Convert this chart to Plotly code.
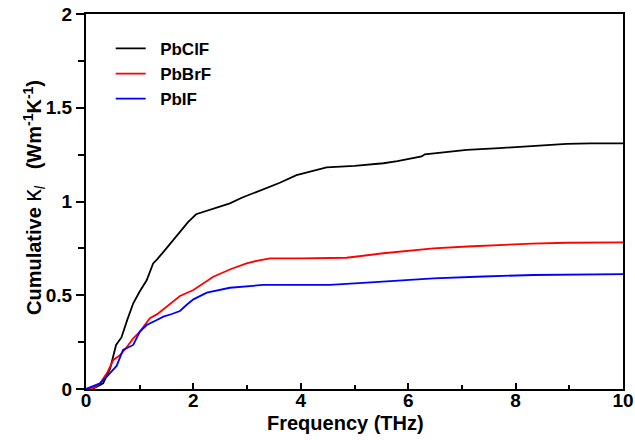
import plotly.graph_objects as go

# PbClF
x_cl = [0, 0.15, 0.32, 0.45, 0.56, 0.66, 0.77, 0.88, 1.0, 1.13, 1.25, 1.32, 1.47, 1.63, 1.78, 1.9, 2.05,
        2.31, 2.5, 2.68, 2.9, 3.18, 3.4, 3.61, 3.92, 4.3, 4.48, 5.0, 5.54, 5.8, 6.16, 6.25, 6.31, 7.09,
        7.7, 8.33, 8.95, 9.4, 10]
y_cl = [0, 0.005, 0.03, 0.11, 0.235, 0.275, 0.37, 0.457, 0.52, 0.58, 0.67, 0.69, 0.741, 0.795, 0.848, 0.89,
        0.932, 0.955, 0.97, 0.99, 1.02, 1.052, 1.075, 1.10, 1.141, 1.168, 1.182, 1.19, 1.204, 1.215, 1.234,
        1.24, 1.252, 1.275, 1.285, 1.296, 1.307, 1.31, 1.31]

# PbBrF
x_br = [0, 0.14, 0.26, 0.4, 0.51, 0.63, 0.75, 0.88, 1.0, 1.19, 1.32, 1.5, 1.75, 2.0, 2.2, 2.37, 2.7, 2.99,
        3.2, 3.43, 4.0, 4.85, 5.54, 6.0, 6.47, 7.1, 7.71, 8.3, 8.95, 10]
y_br = [0, 0.005, 0.03, 0.09, 0.155, 0.18, 0.22, 0.27, 0.305, 0.377, 0.398, 0.44, 0.496, 0.528, 0.565, 0.599,
        0.64, 0.67, 0.685, 0.697, 0.697, 0.70, 0.724, 0.737, 0.75, 0.76, 0.768, 0.775, 0.78, 0.782]

# PbIF
x_i = [0, 0.15, 0.26, 0.4, 0.57, 0.69, 0.8, 0.88, 1.0, 1.13, 1.3, 1.44, 1.6, 1.75, 1.87, 2.0, 2.25, 2.68,
       3.3, 4.54, 5.23, 6.47, 7.4, 8.33, 10]
y_i = [0, 0.015, 0.03, 0.07, 0.123, 0.208, 0.225, 0.235, 0.305, 0.341, 0.365, 0.386, 0.4, 0.416, 0.448,
       0.478, 0.514, 0.54, 0.555, 0.555, 0.567, 0.59, 0.6, 0.608, 0.613]

x_ticks = [0, 2, 4, 6, 8, 10]
y_ticks = [0, 0.5, 1, 1.5, 2]
y_ticktext = ["0", "0.5", "1", "1.5", "2"]

FONT = "Liberation Sans, Arial, sans-serif"

fig = go.Figure()
for xs, ys, name, col in [(x_cl, y_cl, "PbClF", "black"),
                          (x_br, y_br, "PbBrF", "red"),
                          (x_i, y_i, "PbIF", "blue")]:
    fig.add_trace(go.Scatter(x=xs, y=ys, mode="lines", name="\u00a0\u00a0" + name,
                             line=dict(color=col, width=1.8)))

fig.update_layout(
    width=635, height=440,
    margin=dict(l=86, r=12, t=14, b=51),
    paper_bgcolor="white", plot_bgcolor="white",
    font=dict(family=FONT, color="black"),
    legend=dict(x=0.046, y=0.955, xanchor="left", yanchor="top",
                bgcolor="rgba(0,0,0,0)", borderwidth=0,
                font=dict(size=17, family=FONT, weight="bold"),
                itemwidth=30, tracegroupgap=0),
    showlegend=True,
)
fig.update_xaxes(
    range=[0, 10], tickvals=x_ticks, ticktext=[str(v) for v in x_ticks],
    showline=True, linecolor="black", linewidth=2, mirror=True,
    ticks="inside", ticklen=6, tickwidth=2, tickcolor="black",
    minor=dict(dtick=1, ticks="inside", ticklen=4, tickwidth=2, tickcolor="black"),
    showgrid=False, zeroline=False, automargin=False,
    ticklabelstandoff=-7,
    tickfont=dict(size=19, family=FONT, weight="bold"),
)
fig.update_yaxes(
    range=[0, 2], tickvals=y_ticks, ticktext=y_ticktext,
    showline=True, linecolor="black", linewidth=2, mirror=True,
    ticks="outside", ticklen=8, tickwidth=2, tickcolor="black",
    minor=dict(dtick=0.25, ticks="outside", ticklen=6, tickwidth=2, tickcolor="black"),
    showgrid=False, zeroline=False, automargin=False,
    tickfont=dict(size=19, family=FONT, weight="bold"),
)

fig.add_annotation(
    text="<b>Frequency (THz)</b>", xref="paper", yref="paper",
    x=(345 - 86) / 537, y=-(423 - 389) / 375, xanchor="center", yanchor="middle",
    showarrow=False, font=dict(size=20, family=FONT, color="black"),
)
fig.add_annotation(
    text="<b>Cumulative </b><span style='font-size:25px'>κ</span><sub><i>l</i></sub>"
         "<b>\u00a0\u00a0\u00a0(Wm<sup>-1</sup>K<sup>-1</sup>)</b>",
    xref="paper", yref="paper", textangle=-90,
    x=-(86 - 33) / 537, y=(389 - 198) / 375, xanchor="center", yanchor="middle",
    showarrow=False, font=dict(size=20, family=FONT, color="black"),
)

fig.write_html("out.html")
